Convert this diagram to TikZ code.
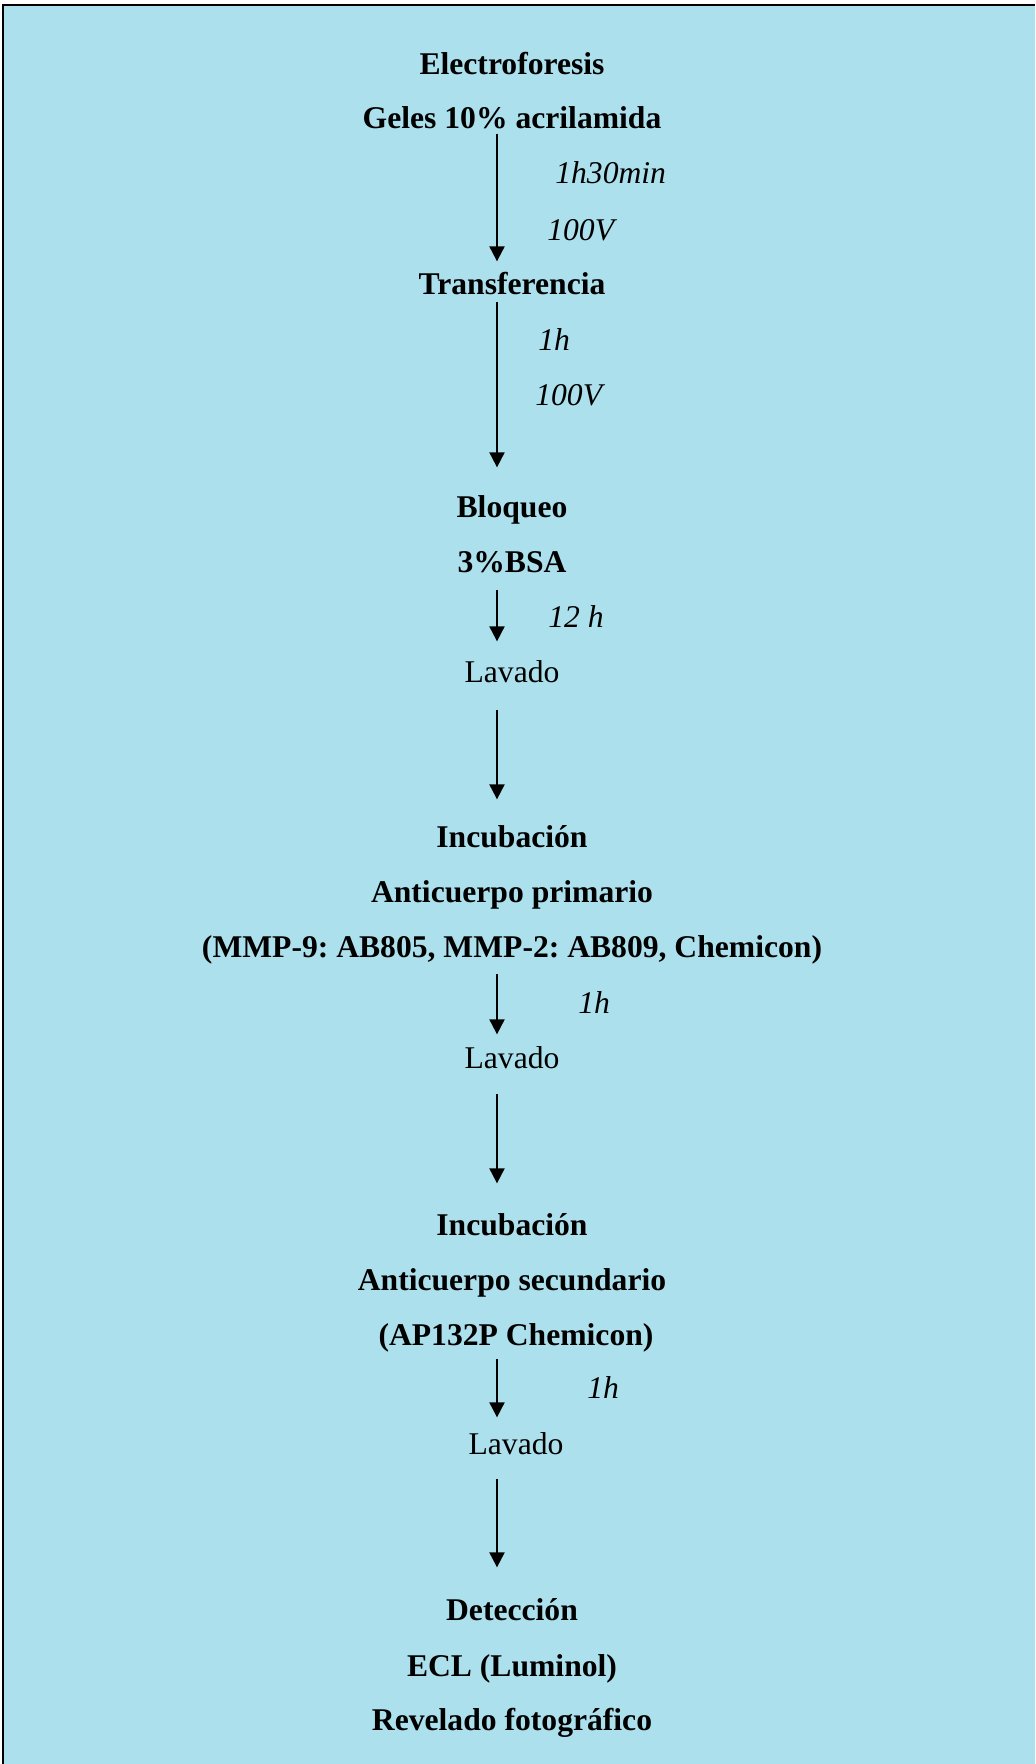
\documentclass[tikz,border=0pt]{standalone}
\usepackage{fontspec}
\setmainfont{Liberation Serif}
\usetikzlibrary{arrows.meta}

\definecolor{agua}{RGB}{172,224,236}

\tikzset{
	titulo/.style={anchor=base, inner sep=0pt, text height=0.7em, text depth=0.25em,
		font=\fontsize{18}{22}\selectfont\bfseries},
	texto/.style={titulo, font=\fontsize{18}{22}\selectfont},
	nota/.style={anchor=base west, inner sep=0pt, font=\fontsize{18}{22}\selectfont\itshape},
	flecha/.style={->, line width=0.04cm},
	>={Triangle[length=0.3cm, width=0.3cm]}
}

\frenchspacing

\begin{document}
\begin{tikzpicture}[x=0.02cm, y=-0.02cm]

	\useasboundingbox (0,0) rectangle (1035,1764);
	\fill[agua] (3,5) rectangle (1035,1764);
	\draw[line width=0.04cm] (3,1764) -- (3,5) -- (1035,5);

	\coordinate (eje) at (497,0);

	\node[titulo] (electro) at (512,75) {Electroforesis};
	\node[titulo] (geles) at (512,129) {Geles 10\% acrilamida};
	\node[nota] (t1) at (555,184) {1h30min};
	\node[nota] (v1) at (547,240) {100V};
	\node[titulo] (transf) at (512,295) {Transferencia};
	\node[nota] (t2) at (538,350) {1h};
	\node[nota] (v2) at (535,405) {100V};

	\node[titulo] (bloqueo) at (512,517) {Bloqueo};
	\node[titulo] (bsa) at (512,572) {3\%BSA};
	\node[nota] (t3) at (548,627) {12 h};
	\node[texto] (lavado1) at (512,682) {Lavado};

	\node[titulo] (incub1) at (512,847) {Incubación};
	\node[titulo] (prim) at (512,902) {Anticuerpo primario};
	\node[titulo] (mmp) at (512,957) {(MMP-9: AB805, MMP-2: AB809, Chemicon)};
	\node[nota] (t4) at (578,1013) {1h};
	\node[texto] (lavado2) at (512,1068) {Lavado};

	\node[titulo] (incub2) at (512,1235) {Incubación};
	\node[titulo] (sec) at (512,1290) {Anticuerpo secundario};
	\node[titulo] (ap) at (516,1345) {(AP132P Chemicon)};
	\node[nota] (t5) at (587,1398) {1h};
	\node[texto] (lavado3) at (516,1454) {Lavado};

	\node[titulo] (detec) at (512,1620) {Detección};
	\node[titulo] (ecl) at (512,1676) {ECL (Luminol)};
	\node[titulo] (revel) at (512,1730) {Revelado fotográfico};

	\draw[flecha, shorten >=0.42cm] (geles.south -| eje) -- (transf.north -| eje);
	\draw[flecha, shorten <=0.04cm, shorten >=0.74cm] (transf.south -| eje) -- (bloqueo.north -| eje);
	\draw[flecha, shorten <=0.26cm, shorten >=0.56cm] (bsa.south -| eje) -- (lavado1.north -| eje);
	\draw[flecha, shorten <=0.46cm, shorten >=0.70cm] (lavado1.south -| eje) -- (incub1.north -| eje);
	\draw[flecha, shorten <=0.24cm, shorten >=0.42cm] (mmp.south -| eje) -- (lavado2.north -| eje);
	\draw[flecha, shorten <=0.42cm, shorten >=0.78cm] (lavado2.south -| eje) -- (incub2.north -| eje);
	\draw[flecha, shorten <=0.18cm, shorten >=0.48cm] (ap.south -| eje) -- (lavado3.north -| eje);
	\draw[flecha, shorten <=0.40cm, shorten >=0.80cm] (lavado3.south -| eje) -- (detec.north -| eje);

\end{tikzpicture}
\end{document}
